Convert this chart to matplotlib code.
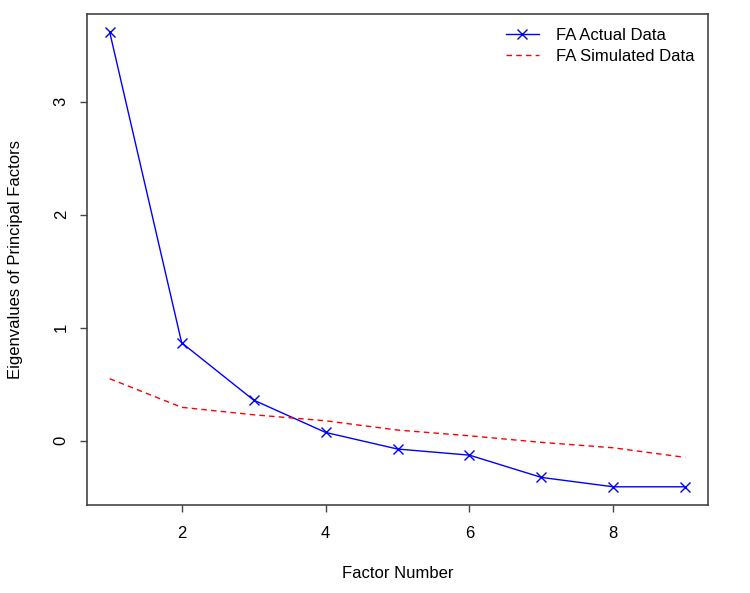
import matplotlib
matplotlib.use("Agg")
import matplotlib.pyplot as plt

plt.rcParams['font.family'] = ['Liberation Sans', 'DejaVu Sans']

factors = [1, 2, 3, 4, 5, 6, 7, 8, 9]
fa_actual = [3.614, 0.867, 0.360, 0.074, -0.073, -0.127, -0.324, -0.407, -0.407]
fa_simulated = [0.549, 0.296, 0.230, 0.177, 0.095, 0.044, -0.014, -0.062, -0.147]
xticks = [2, 4, 6, 8]
yticks = [0, 1, 2, 3]

fig = plt.figure(figsize=(7.5, 5.93), dpi=100)
ax = fig.add_axes([0.1156, 0.1484, 0.8288, 0.828])

ax.plot(factors, fa_actual, color='blue', lw=1, marker='x', ms=7, mew=1,
        label='FA Actual Data')
ax.plot(factors, fa_simulated, color='red', lw=1, ls=(0, (4, 3)),
        label='FA Simulated Data')

ax.set_xlim(0.68, 9.32)
ax.set_ylim(-0.568, 3.775)
ax.set_xticks(xticks)
ax.set_yticks(yticks)
for sp in ax.spines.values():
    sp.set_color('#444444'); sp.set_linewidth(1.2)
ax.tick_params(axis='x', length=5, width=1, color='#444444', labelsize=12, pad=10)
ax.tick_params(axis='y', length=5, width=1, color='#444444', labelsize=12, pad=8)
for lab in ax.get_yticklabels():
    lab.set_rotation(90); lab.set_va('center')

ax.set_xlabel('Factor Number', fontsize=12, labelpad=18)
ax.set_ylabel('Eigenvalues of Principal Factors', fontsize=12, labelpad=22)

ax.legend(loc='upper right', frameon=False, fontsize=12, handlelength=2.0,
          handletextpad=1.0, labelspacing=0.35, borderaxespad=0.45)

fig.savefig('out.png', dpi=100)
